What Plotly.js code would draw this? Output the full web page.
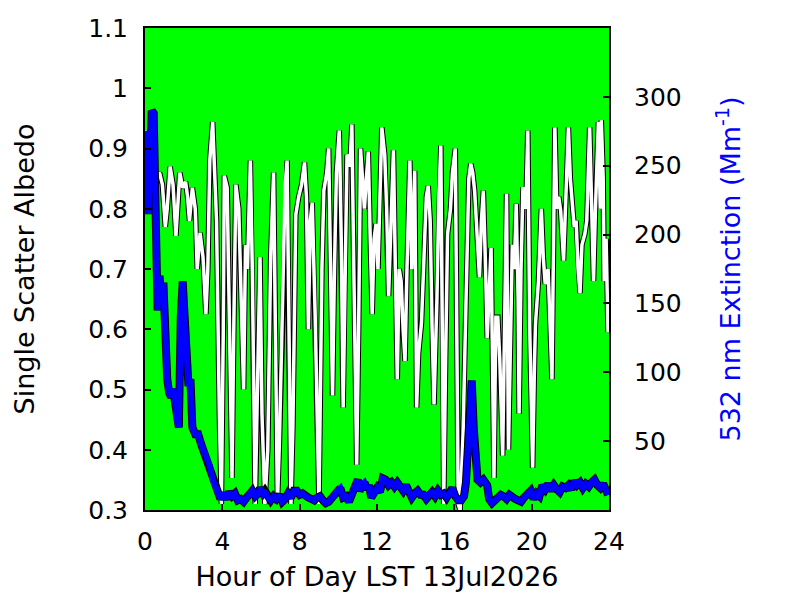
<!DOCTYPE html>
<html>
<head>
<meta charset="utf-8">
<script src="https://cdn.plot.ly/plotly-3.0.1.min.js"></script>
<style>
  html, body { margin: 0; padding: 0; background: #ffffff; }
  #chart { width: 800px; height: 600px; }
</style>
</head>
<body>
<div id="chart"></div>
<script>
(function () {
  'use strict';

  // Single scatter albedo (left axis)
  var albedoHours = [
    0.0, 0.1, 0.2, 0.3, 0.45, 0.6, 0.75, 0.9, 1.05, 1.15, 1.3, 1.45, 1.6, 1.7, 1.8, 1.95,
    2.1, 2.2, 2.3, 2.45, 2.6, 2.7, 2.85, 3.0, 3.15, 3.25, 3.35, 3.5, 3.6, 3.7, 3.85, 3.95,
    4.05, 4.1, 4.25, 4.35, 4.5, 4.6, 4.7, 4.85, 4.95, 5.1, 5.2, 5.3, 5.45, 5.55, 5.7, 5.8,
    5.95, 6.05, 6.2, 6.35, 6.5, 6.65, 6.75, 6.85, 6.95, 7.1, 7.25, 7.35, 7.45, 7.55, 7.65,
    7.8, 7.95, 8.1, 8.25, 8.35, 8.45, 8.55, 8.65, 8.8, 9.0, 9.15, 9.25, 9.4, 9.5, 9.6, 9.7,
    9.8, 9.9, 10.05, 10.15, 10.25, 10.35, 10.45, 10.6, 10.7, 10.8, 10.95, 11.05, 11.15,
    11.25, 11.35, 11.45, 11.55, 11.65, 11.75, 11.85, 11.95, 12.05, 12.15, 12.25, 12.4,
    12.5, 12.6, 12.7, 12.85, 12.95, 13.05, 13.15, 13.25, 13.35, 13.45, 13.55, 13.7, 13.8,
    13.95, 14.05, 14.15, 14.3, 14.45, 14.55, 14.65, 14.75, 14.85, 14.95, 15.1, 15.2, 15.3,
    15.4, 15.45, 15.55, 15.65, 15.8, 15.9, 16.05, 16.12, 16.2, 16.3, 16.45, 16.6, 16.75,
    16.85, 16.95, 17.05, 17.2, 17.3, 17.4, 17.5, 17.6, 17.7, 17.8, 17.9, 18.05, 18.15,
    18.25, 18.35, 18.5, 18.6, 18.7, 18.8, 18.9, 19.0, 19.1, 19.2, 19.3, 19.35, 19.45, 19.55,
    19.7, 19.8, 19.9, 20.0, 20.05, 20.15, 20.2, 20.35, 20.5, 20.6, 20.7, 20.85, 21.05, 21.2,
    21.3, 21.4, 21.5, 21.65, 21.75, 21.9, 22.0, 22.1, 22.2, 22.3, 22.4, 22.5, 22.6, 22.75,
    22.85, 23.0, 23.1, 23.2, 23.3, 23.45, 23.55, 23.6, 23.7, 23.75, 23.85, 23.95
  ];
  var albedo = [
    0.93, 0.83, 0.90, 0.85, 0.855, 0.85, 0.86, 0.84, 0.77, 0.80, 0.87, 0.84, 0.755, 0.80, 0.86, 0.835,
    0.845, 0.82, 0.78, 0.835, 0.80, 0.70, 0.76, 0.72, 0.625, 0.70, 0.88, 0.944, 0.87, 0.78, 0.45, 0.31,
    0.60, 0.855, 0.835, 0.60, 0.353, 0.62, 0.84, 0.80, 0.66, 0.50, 0.74, 0.70, 0.88, 0.70, 0.31, 0.45,
    0.72, 0.46, 0.31, 0.40, 0.72, 0.86, 0.60, 0.31, 0.41, 0.60, 0.84, 0.88, 0.55, 0.31, 0.44,
    0.79, 0.82, 0.84, 0.877, 0.82, 0.60, 0.78, 0.81, 0.625, 0.31, 0.70, 0.83, 0.86, 0.90, 0.70, 0.49,
    0.70, 0.86, 0.93, 0.75, 0.47, 0.70, 0.89, 0.87, 0.94, 0.70, 0.375, 0.60, 0.90,
    0.85, 0.80, 0.85, 0.895, 0.75, 0.625, 0.75, 0.775, 0.70, 0.85, 0.935, 0.89,
    0.80, 0.655, 0.75, 0.897, 0.70, 0.517, 0.70, 0.68, 0.60, 0.547, 0.70, 0.88, 0.70,
    0.863, 0.47, 0.56, 0.61, 0.73, 0.82, 0.838, 0.78, 0.60, 0.475, 0.65, 0.82, 0.905,
    0.60, 0.31, 0.55, 0.758, 0.80, 0.86, 0.90, 0.55, 0.31, 0.30, 0.425, 0.64, 0.85,
    0.875, 0.86, 0.83, 0.75, 0.686, 0.78, 0.83, 0.72, 0.585, 0.66, 0.735, 0.353, 0.62,
    0.62, 0.55, 0.39, 0.62, 0.825, 0.40, 0.60, 0.74, 0.70, 0.808, 0.65, 0.46, 0.70, 0.836,
    0.80, 0.93, 0.60, 0.42, 0.37, 0.55, 0.61, 0.68, 0.80, 0.72, 0.675, 0.70, 0.517, 0.935,
    0.80, 0.82, 0.797, 0.714, 0.80, 0.935, 0.85, 0.80, 0.77, 0.78, 0.70, 0.66, 0.74, 0.758,
    0.78, 0.935, 0.80, 0.68, 0.80, 0.944, 0.80, 0.947, 0.85, 0.68, 0.75, 0.595
  ];

  // 532 nm extinction, Mm^-1 (right axis)
  var extHours = [
    0.0, 0.05, 0.1, 0.15, 0.25, 0.35, 0.45, 0.55, 0.65, 0.75, 0.85, 0.95, 1.05, 1.15, 1.25,
    1.35, 1.45, 1.55, 1.65, 1.75, 1.85, 1.95, 2.05, 2.15, 2.25, 2.35, 2.45, 2.6, 2.75, 2.9,
    3.05, 3.2, 3.35, 3.5, 3.6, 3.75, 3.9, 4.05, 4.2, 4.35, 4.5, 4.65, 4.8, 4.95, 5.1, 5.25,
    5.4, 5.55, 5.7, 5.85, 5.95, 6.1, 6.2, 6.35, 6.5, 6.65, 6.8, 6.95, 7.1, 7.25, 7.4, 7.55,
    7.7, 7.85, 8.0, 8.15, 8.3, 8.45, 8.6, 8.75, 8.9, 9.05, 9.2, 9.35, 9.5, 9.65, 9.8, 9.95,
    10.1, 10.25, 10.4, 10.55, 10.7, 10.85, 11.0, 11.1, 11.2, 11.35, 11.5, 11.6, 11.7, 11.85,
    12.0, 12.15, 12.3, 12.45, 12.6, 12.75, 12.9, 13.05, 13.2, 13.35, 13.5, 13.65, 13.8,
    13.95, 14.1, 14.25, 14.4, 14.55, 14.7, 14.85, 15.0, 15.15, 15.3, 15.45, 15.6, 15.75,
    15.9, 16.05, 16.2, 16.35, 16.5, 16.6, 16.7, 16.8, 16.9, 17.0, 17.1, 17.2, 17.35, 17.5,
    17.6, 17.7, 17.8, 17.95, 18.1, 18.25, 18.4, 18.55, 18.7, 18.85, 19.0, 19.15, 19.3,
    19.45, 19.6, 19.8, 19.95, 20.1, 20.25, 20.4, 20.55, 20.7, 20.85, 21.0, 21.15, 21.3,
    21.45, 21.6, 21.75, 21.9, 22.05, 22.2, 22.35, 22.5, 22.65, 22.8, 22.95, 23.1, 23.25,
    23.4, 23.55, 23.7, 23.85, 23.95
  ];
  var extinction = [
    250, 275, 225, 215, 240, 290, 288, 230, 145, 170, 150, 165, 110, 95, 85,
    82, 88, 80, 65, 60, 140, 166, 140, 100, 90, 95, 60, 55, 55, 48,
    42, 38, 32, 22, 18, 12, 8, 12, 8, 13, 10, 12, 7, 8, 6, 9,
    12, 14, 10, 12, 16, 12, 14, 9, 7, 10, 8, 11, 6, 8, 12, 9,
    14, 14, 11, 12, 10, 9, 8, 7, 9, 10, 7, 5, 6, 8, 11, 14,
    16, 9, 10, 6, 12, 18, 22, 14, 18, 20, 15, 18, 9, 12,
    16, 13, 23, 22, 18, 20, 17, 20, 16, 14, 18, 12, 9,
    12, 14, 11, 11, 8, 12, 13, 10, 14, 11, 12, 9, 12,
    16, 10, 7, 7, 10, 20, 40, 70, 94, 60, 30, 22, 20, 22,
    20, 18, 8, 5, 7, 9, 11, 10, 8, 11, 9, 8, 7,
    6, 9, 12, 14, 8, 12, 10, 18, 15, 19, 14, 18, 15,
    13, 17, 16, 18, 15, 21, 18, 20, 16, 19, 17, 20, 22,
    18, 16, 19, 15, 11
  ];

  var xTicks = [0, 4, 8, 12, 16, 20, 24];
  var albedoTicks = [0.3, 0.4, 0.5, 0.6, 0.7, 0.8, 0.9, 1.0, 1.1];
  var albedoTickText = ['0.3', '0.4', '0.5', '0.6', '0.7', '0.8', '0.9', '1', '1.1'];
  var extTicks = [50, 100, 150, 200, 250, 300];

  var fontFamily = '"DejaVu Sans", sans-serif';
  var tickFont = { family: fontFamily, size: 25, color: '#000000' };
  var titleSize = 27;

  var axisCommon = {
    showgrid: false,
    zeroline: false,
    ticks: 'inside',
    ticklen: 6,
    tickwidth: 2,
    tickcolor: '#000000',
    tickfont: tickFont
  };

  var traces = [
    { x: albedoHours, y: albedo, type: 'scatter', mode: 'lines', yaxis: 'y',
      line: { color: '#000000', width: 5.5 }, hoverinfo: 'skip' },
    { x: albedoHours, y: albedo, type: 'scatter', mode: 'lines', yaxis: 'y',
      line: { color: '#ffffff', width: 3.5 } },
    { x: extHours, y: extinction, type: 'scatter', mode: 'lines', yaxis: 'y2',
      line: { color: '#000000', width: 8 }, hoverinfo: 'skip' },
    { x: extHours, y: extinction, type: 'scatter', mode: 'lines', yaxis: 'y2',
      line: { color: '#0000ff', width: 6 } }
  ];

  var layout = {
    width: 800,
    height: 600,
    showlegend: false,
    paper_bgcolor: '#ffffff',
    plot_bgcolor: '#00ff00',
    font: { family: fontFamily, size: 25, color: '#000000' },
    margin: { l: 145, r: 191, t: 28, b: 90 },
    xaxis: Object.assign({}, axisCommon, {
      range: [0, 24],
      tickvals: xTicks,
      showline: true, linewidth: 2, linecolor: '#000000', mirror: true,
      ticklabelstandoff: 8,
      title: { text: 'Hour of Day LST 13Jul2026', font: { family: fontFamily, size: titleSize, color: '#000000' }, standoff: 12 }
    }),
    yaxis: Object.assign({}, axisCommon, {
      range: [0.3, 1.1],
      tickvals: albedoTicks,
      ticktext: albedoTickText,
      showline: true, linewidth: 2, linecolor: '#000000', mirror: true,
      ticklabelstandoff: 10,
      title: { text: 'Single Scatter Albedo', font: { family: fontFamily, size: titleSize, color: '#000000' }, standoff: 46 }
    }),
    yaxis2: Object.assign({}, axisCommon, {
      overlaying: 'y',
      side: 'right',
      range: [0, 350],
      tickvals: extTicks,
      showline: false,
      ticklabelstandoff: 24,
      title: { text: '532 nm Extinction (Mm<sup>-1</sup>)', font: { family: fontFamily, size: titleSize, color: '#0000ff' }, standoff: 40 }
    })
  };

  Plotly.newPlot('chart', traces, layout, { displayModeBar: false, staticPlot: true });
})();
</script>
</body>
</html>
